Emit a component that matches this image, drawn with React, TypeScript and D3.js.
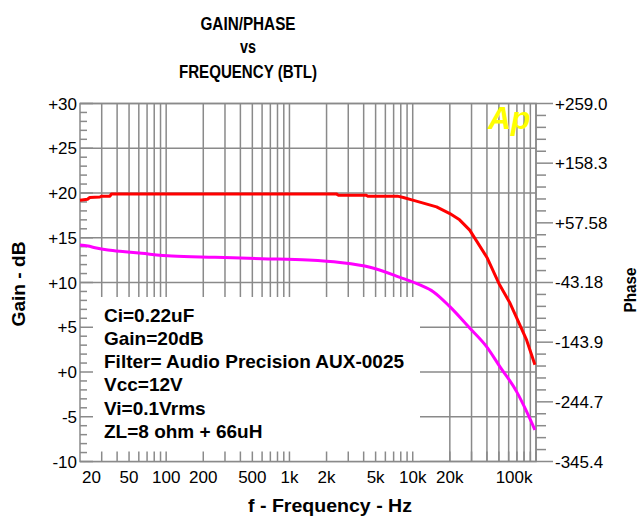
import React from "react";
import * as d3 from "d3";

// ---- data ----
const gainFreq = [20, 23, 24, 29, 30, 35, 36, 2400, 2500, 4200, 4300, 7500, 8400, 10000, 12000, 15600, 20000, 24000, 29000, 40000, 50000, 61000, 70000, 84000, 98000];
const gainDb = [19.2, 19.3, 19.5, 19.55, 19.65, 19.65, 19.9, 19.9, 19.75, 19.75, 19.65, 19.65, 19.5, 19.2, 18.9, 18.45, 17.7, 17.0, 15.85, 12.8, 9.9, 7.8, 6.0, 3.55, 0.8];

const phaseFreq = [20, 23.2, 26.5, 33.7, 46.3, 63.3, 111, 249, 595, 1412, 2570, 4500, 7880, 11440, 14660, 20000, 29100, 39700, 50900, 69600, 84000, 98000];
const phaseDeg = [20.0, 18.3, 15.5, 11.6, 8.7, 6.0, 1.5, -0.7, -3.1, -5.3, -9.5, -17.5, -34.5, -47.4, -58.7, -84.0, -120.5, -151.5, -185.2, -227.4, -261.1, -292.0];

const leftTicks = [30, 25, 20, 15, 10, 5, 0, -5, -10];
const leftTickLabels = ["+30", "+25", "+20", "+15", "+10", "+5", "+0", "-5", "-10"];
const rightTicks = [259.0, 158.3, 57.58, -43.18, -143.9, -244.7, -345.4];
const rightTickLabels = ["+259.0", "+158.3", "+57.58", "-43.18", "-143.9", "-244.7", "-345.4"];
const freqLabels = [20, 50, 100, 200, 500, 1000, 2000, 5000, 10000, 20000, 100000];
const freqLabelText = ["20", "50", "100", "200", "500", "1k", "2k", "5k", "10k", "20k", "100k"];
const notes = ["Ci=0.22uF", "Gain=20dB", "Filter= Audio Precision AUX-0025", "Vcc=12V", "Vi=0.1Vrms", "ZL=8 ohm + 66uH"];
const titleLines = ["GAIN/PHASE", "vs", "FREQUENCY (BTL)"];

// ---- layout ----
const W = 640, H = 518;
const L = 80, R = 536, T = 103.5, B = 461.5;
const GRID = "#8a8a8a";
const FONT = "'Liberation Sans', Arial, sans-serif";

export default function App() {
  const x = d3.scaleLog().domain([20, 100000]).range([L, R]);
  const yL = d3.scaleLinear().domain([-10, 30]).range([B, T]);
  const yR = d3.scaleLinear().domain([-345.4, 259.0]).range([B, T]);

  const gridFreqs: number[] = [];
  for (const dec of [10, 100, 1000, 10000, 100000]) {
    for (let n = 1; n <= 9; n++) {
      const f = n * dec;
      if (f > 20 && f <= 100000) gridFreqs.push(f);
    }
  }
  const minorDb = d3.range(-10, 31, 1);
  const rStep = (259.0 + 345.4) / 30;
  const minorR = d3.range(0, 31).map((i) => -345.4 + i * rStep);

  const gainLine = d3
    .line<number>()
    .x((_, i) => x(gainFreq[i]))
    .y((d) => yL(d));
  const phaseLine = d3
    .line<number>()
    .x((_, i) => x(phaseFreq[i]))
    .y((d) => yR(d))
    .curve(d3.curveMonotoneX);

  const charW = 9.45;
  const clampCenter = (cx: number, txt: string) => {
    const w = txt.length * charW;
    let c = cx;
    if (c - w / 2 < L + 2) c = L + 2 + w / 2;
    if (c + w / 2 > R - 3) c = R - 3 - w / 2;
    return c;
  };

  const titleLen = [95, 16, 138];
  const titleY = [30, 53, 78];

  return (
    <svg
      width={W}
      height={H}
      style={{ position: "absolute", left: 0, top: 0, background: "#fff" }}
      fontFamily={FONT}
    >
      <rect x={0} y={0} width={W} height={H} fill="#fff" />

      {/* title */}
      {titleLines.map((t, i) => (
        <text
          key={t}
          x={248}
          y={titleY[i]}
          textAnchor="middle"
          fontSize={19}
          fontWeight="bold"
          textLength={titleLen[i]}
          lengthAdjust="spacingAndGlyphs"
        >
          {t}
        </text>
      ))}

      {/* grid */}
      {gridFreqs.map((f) => (
        <line key={"v" + f} x1={x(f)} x2={x(f)} y1={T} y2={B} stroke={GRID} strokeWidth={1.5} />
      ))}
      {leftTicks.map((v) => (
        <line key={"h" + v} x1={L} x2={R} y1={yL(v)} y2={yL(v)} stroke={GRID} strokeWidth={1.5} />
      ))}

      {/* legend background */}
      <rect x={L + 1} y={297} width={420 - L - 1} height={B - 297} fill="#fff" />

      {/* frame */}
      <rect x={L} y={T} width={R - L} height={B - T} fill="none" stroke={GRID} strokeWidth={1.5} />

      {/* left ticks (inside) */}
      {minorDb.map((v) => (
        <line
          key={"lt" + v}
          x1={L}
          x2={L + (v % 5 === 0 ? 13 : 7)}
          y1={yL(v)}
          y2={yL(v)}
          stroke={GRID}
          strokeWidth={1.5}
        />
      ))}
      {/* bottom ticks (inside) */}
      {gridFreqs.map((f) => (
        <line key={"bt" + f} x1={x(f)} x2={x(f)} y1={B} y2={B - 10} stroke={GRID} strokeWidth={1.5} />
      ))}
      {/* right ticks (outside) */}
      {minorR.map((v, i) => (
        <line
          key={"rt" + i}
          x1={R}
          x2={R + (i % 5 === 0 ? 17 : 10)}
          y1={yR(v)}
          y2={yR(v)}
          stroke={GRID}
          strokeWidth={1.5}
        />
      ))}

      {/* Ap logo */}
      <text x={488} y={129} fontSize={32} fontWeight="bold" fontStyle="italic" fill="#ffff00">
        Ap
      </text>

      {/* curves */}
      <path d={gainLine(gainDb) || ""} fill="none" stroke="#ff0000" strokeWidth={3} strokeLinejoin="round" />
      <path d={phaseLine(phaseDeg) || ""} fill="none" stroke="#ff00ff" strokeWidth={3} strokeLinejoin="round" />

      {/* left tick labels */}
      {leftTicks.map((v, i) => (
        <text key={"ll" + v} x={77} y={yL(v) + 6} textAnchor="end" fontSize={17}>
          {leftTickLabels[i]}
        </text>
      ))}
      {/* right tick labels */}
      {rightTicks.map((v, i) => (
        <text key={"rl" + v} x={555} y={yR(v) + 6} textAnchor="start" fontSize={17}>
          {rightTickLabels[i]}
        </text>
      ))}
      {/* bottom tick labels */}
      {freqLabels.map((f, i) => (
        <text key={"bl" + f} x={clampCenter(x(f), freqLabelText[i])} y={483} textAnchor="middle" fontSize={17}>
          {freqLabelText[i]}
        </text>
      ))}

      {/* axis titles */}
      <text
        transform="translate(25,284) rotate(-90)"
        textAnchor="middle"
        fontSize={18}
        fontWeight="bold"
        textLength={85}
        lengthAdjust="spacingAndGlyphs"
      >
        Gain - dB
      </text>
      <text
        transform="translate(636,290) rotate(-90)"
        textAnchor="middle"
        fontSize={17}
        fontWeight="bold"
        textLength={45}
        lengthAdjust="spacingAndGlyphs"
      >
        Phase
      </text>
      <text x={330} y={512} textAnchor="middle" fontSize={18} fontWeight="bold" textLength={164} lengthAdjust="spacingAndGlyphs">
        f - Frequency - Hz
      </text>

      {/* notes */}
      {notes.map((t, i) => (
        <text key={t} x={104} y={321.5 + i * 23.33} fontSize={19} fontWeight="bold">
          {t}
        </text>
      ))}
    </svg>
  );
}
